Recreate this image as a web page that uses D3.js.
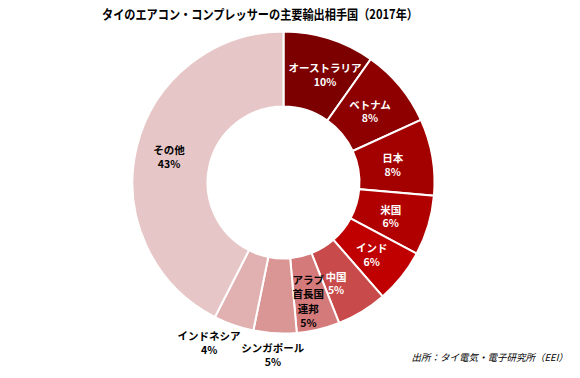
<!DOCTYPE html>
<html><head><meta charset="utf-8">
<script src="https://cdn.jsdelivr.net/npm/d3@7"></script>
<style>body{margin:0;background:#fff;}svg{display:block;font-family:"Noto Sans CJK JP","Liberation Sans",sans-serif;}</style>
</head><body>
<svg id="c" width="580" height="378"></svg>
<script>
const categories = ["オーストラリア","ベトナム","日本","米国","インド","中国","アラブ首長国連邦","シンガポール","インドネシア","その他"];
const labelLines = [["オーストラリア"],["ベトナム"],["日本"],["米国"],["インド"],["中国"],["アラブ","首長国","連邦"],["シンガポール"],["インドネシア"],["その他"]];
// slice shares estimated from the drawn angles
const values = [9.8,8.4,8.2,6.4,5.8,5.4,4.6,4.6,4.3,42.5];
// percentages as printed on the chart
const pctLabels = ["10%","8%","8%","6%","6%","5%","5%","5%","4%","43%"];
const colors = ["#7d0000","#8e0000","#a30000","#b10000","#c00000","#c84a4a","#d47a7a","#da9595","#e1b1b1","#e6c6c7"];
const textColors = ["#fff","#fff","#fff","#fff","#fff","#fff","#000","#000","#000","#000"];

const svg = d3.select("#c");
const cx = 283.5, cy = 182.5, R = 151, r = 76;

svg.append("text").attr("x", 260).attr("y", 19).attr("text-anchor","middle")
  .attr("font-size", 13).attr("font-weight","bold").attr("fill","#000")
  .attr("textLength", 316).attr("lengthAdjust","spacingAndGlyphs")
  .text("タイのエアコン・コンプレッサーの主要輸出相手国（2017年）");

const pie = d3.pie().sort(null).value(d => d);
const arcs = pie(values);
const arc = d3.arc().innerRadius(r).outerRadius(R);
const g = svg.append("g").attr("transform", `translate(${cx},${cy})`);
g.selectAll("path").data(arcs).join("path")
  .attr("d", arc).attr("fill", (d,i) => colors[i])
  .attr("stroke","#fff").attr("stroke-width", 2);

// label placement: radius and angle offset (degrees) from slice middle
const labelR = [115.2,111.8,110.6,112.5,114.2,113.7,121.4,172.8,177,117.3];
const labelDA = [3.5,0.3,0.6,1.1,0.9,3.8,1.5,0.3,5.6,-0.9];
arcs.forEach((d,i) => {
  const a = (d.startAngle + d.endAngle)/2 + labelDA[i]*Math.PI/180;
  const x = Math.sin(a)*labelR[i], y = -Math.cos(a)*labelR[i];
  const lines = labelLines[i].concat([pctLabels[i]]);
  const lh = lines.length > 2 ? 14.5 : 13.5;
  const t = g.append("text").attr("text-anchor","middle").attr("font-size", 10.5)
    .attr("font-weight","bold").attr("fill", textColors[i]);
  const y0 = y - (lines.length-1)*lh/2 + 4;
  lines.forEach((s,k) => t.append("tspan").attr("x", x).attr("y", y0 + k*lh).text(s));
});

svg.append("text").attr("x", 568).attr("y", 361).attr("text-anchor","end")
  .attr("font-size", 9.5).attr("font-style","italic").attr("fill","#000")
  .text("出所：タイ電気・電子研究所（EEI）");
</script>
</body></html>
